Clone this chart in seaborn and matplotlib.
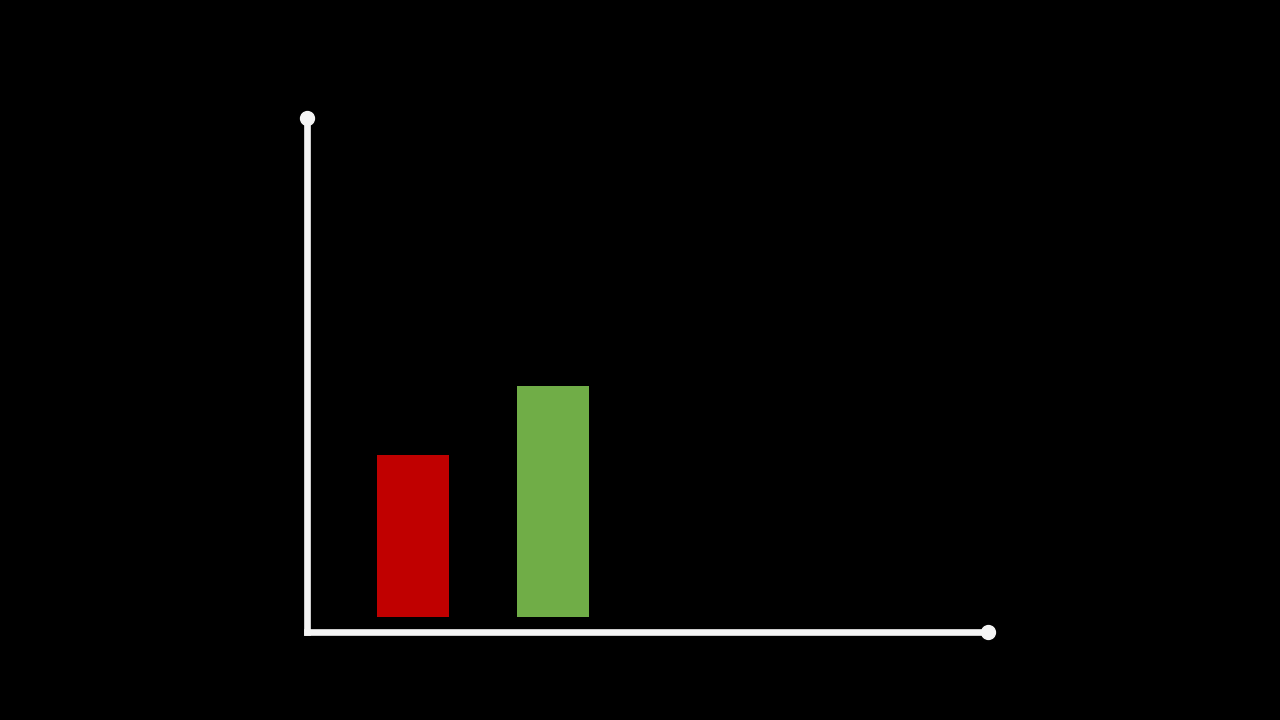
import matplotlib
matplotlib.use("Agg")
import matplotlib.pyplot as plt
import seaborn as sns
import pandas as pd

# ---------------------------
# Data
# ---------------------------
categories = ["A", "B"]
values = [35, 50]
colors = ["#C00000", "#70AD47"]

df = pd.DataFrame({"category": categories, "value": values})

sns.set_style("dark")

fig = plt.figure(figsize=(12.8, 7.2), dpi=100, facecolor="black")
# axes spans from the y-axis line to the x-axis end
ax = fig.add_axes([307 / 1280, 1 - 632 / 720, (988 - 307) / 1280, (632 - 118) / 720])
ax.set_facecolor("black")

sns.barplot(
    data=df,
    x="category",
    y="value",
    hue="category",
    palette=colors,
    width=0.514,
    legend=False,
    saturation=1,
    linewidth=0,
    edgecolor="none",
    ax=ax,
)

ax.set_xlim(-0.757, 4.107)
ax.set_ylim(-3.24, 107.8)

# ---------------------------
# Axis styling
# ---------------------------
axis_color = "#F5F5F5"
for side in ["top", "right"]:
    ax.spines[side].set_visible(False)
for side in ["left", "bottom"]:
    ax.spines[side].set_color(axis_color)
    ax.spines[side].set_linewidth(4.8)
    ax.spines[side].set_capstyle("projecting")

ax.set_xticks([])
ax.set_yticks([])
ax.set_xlabel("")
ax.set_ylabel("")
ax.grid(False)

# end dots on the axes
ax.plot([0, 1], [1, 0], "o", color=axis_color, markersize=10,
        transform=ax.transAxes, clip_on=False, zorder=5)

fig.savefig("out.png", dpi=100, facecolor="black")
